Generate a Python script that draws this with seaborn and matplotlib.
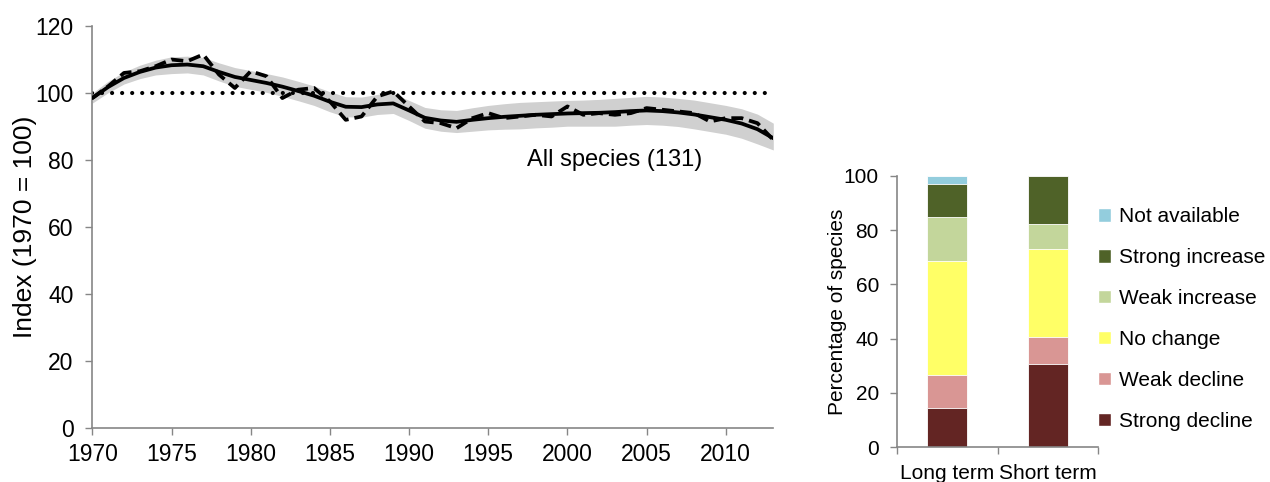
import numpy as np
import pandas as pd
import matplotlib
matplotlib.use('Agg')
import matplotlib.pyplot as plt
from matplotlib.patches import Patch
import seaborn as sns

# --- Data ---
years = list(range(1970, 2014))
annual_index = [98.5, 102, 106, 106.5, 108, 110, 109.5, 111.5, 105.5, 101.5,
                106.5, 105, 98.5, 101, 101.5, 97.5, 92, 93, 99, 100.5,
                96, 91.5, 91, 89.5, 92.5, 94, 92.5, 93, 93.5, 93,
                96, 93.5, 94, 93.5, 94, 95.5, 95, 94.5, 94, 91.5,
                92.5, 92.5, 91, 86]
smoothed = [98.5, 101.8, 104.5, 106.3, 107.6, 108.3, 108.5, 108, 106.3, 104.8,
            103.9, 103, 101.9, 100.6, 99.2, 97.4, 95.9, 95.8, 96.6, 96.9,
            94.8, 92.6, 91.8, 91.4, 92, 92.5, 92.9, 93.2, 93.5, 93.7,
            93.9, 94, 94.1, 94.3, 94.6, 94.8, 94.6, 94.2, 93.6, 92.8,
            92, 90.9, 89.2, 86.5]
upper = [100, 103.5, 106.3, 108.3, 109.8, 110.8, 111, 110.6, 109, 107.6,
         106.7, 105.8, 104.8, 103.5, 102.1, 100.4, 98.9, 98.8, 99.6, 99.9,
         97.8, 95.7, 95, 94.8, 95.6, 96.3, 96.8, 97.2, 97.4, 97.6,
         97.8, 97.9, 98.1, 98.4, 98.7, 99, 98.8, 98.4, 97.9, 97.1,
         96.3, 95.3, 93.7, 91]
lower = [97, 100.1, 102.7, 104.3, 105.4, 105.8, 106, 105.4, 103.6, 102,
         101.1, 100.2, 99, 97.7, 96.3, 94.4, 92.9, 92.8, 93.6, 93.9,
         91.8, 89.5, 88.6, 88.2, 88.6, 89, 89.2, 89.3, 89.6, 89.8,
         90.1, 90.1, 90.1, 90.1, 90.4, 90.6, 90.4, 90, 89.3, 88.5,
         87.7, 86.5, 84.8, 83]
baseline = 100

periods = ['Long term', 'Short term']
trend_classes = ['Strong decline', 'Weak decline', 'No change',
                 'Weak increase', 'Strong increase', 'Not available']
long_term = [14.5, 12.2, 42.0, 16.0, 12.2, 3.1]
short_term = [30.5, 9.9, 32.8, 9.2, 17.6, 0.0]
class_colors = ['#632523', '#D99694', '#FFFF66', '#C3D69B', '#4F6228', '#93CDDD']

# --- Style ---
sns.set_theme(style='white')
plt.rcParams['font.family'] = ['Liberation Sans', 'DejaVu Sans']
plt.rcParams['text.color'] = 'black'
plt.rcParams['axes.labelcolor'] = 'black'
axis_grey = '#868686'

fig = plt.figure(figsize=(12.7, 4.82), dpi=100)
ax1 = fig.add_axes([0.0727, 0.112, 0.5362, 0.834])
ax2 = fig.add_axes([0.7063, 0.0726, 0.1583, 0.5624])

# --- Left panel: index over time ---
df = pd.DataFrame({'year': years, 'index': annual_index, 'smooth': smoothed,
                   'lower': lower, 'upper': upper})
ax1.fill_between(df['year'], df['lower'], df['upper'], color='#d0d0d0', lw=0, zorder=1)
ax1.axhline(baseline, color='black', lw=3.0, dashes=(0.01, 2.4),
            dash_capstyle='round', zorder=2)
sns.lineplot(data=df, x='year', y='smooth', ax=ax1, color='black', lw=2.7, zorder=3)
sns.lineplot(data=df, x='year', y='index', ax=ax1, color='black', lw=2.7,
             dashes=False, zorder=4).lines[-1].set_dashes((3.2, 1.6))
ax1.text(2003, 80, 'All species (131)', fontsize=17, ha='center', va='center')

ax1.set_xlim(1970, 2013)
ax1.set_ylim(0, 120)
ax1.set_xticks(range(1970, 2011, 5))
ax1.set_yticks(range(0, 121, 20))
ax1.set_xlabel('')
ax1.set_ylabel('Index (1970 = 100)', fontsize=19, labelpad=-1)
ax1.tick_params(axis='x', labelsize=16.5, length=5, width=1, color=axis_grey,
                labelcolor='black', pad=6, bottom=True, direction='out')
ax1.tick_params(axis='y', labelsize=16.5, length=5, width=1, color=axis_grey,
                labelcolor='black', pad=8.5, left=True, direction='out')
for side in ['top', 'right']:
    ax1.spines[side].set_visible(False)
for side in ['left', 'bottom']:
    ax1.spines[side].set_color(axis_grey)
    ax1.spines[side].set_linewidth(1.2)

# --- Right panel: stacked bars of trend classes ---
bars = pd.DataFrame({'class': trend_classes, 'Long term': long_term,
                     'Short term': short_term}).set_index('class')
tops = bars.cumsum()
for cls, col in reversed(list(zip(trend_classes, class_colors))):
    seg = pd.DataFrame({'period': periods, 'top': tops.loc[cls, periods].values})
    sns.barplot(data=seg, x='period', y='top', ax=ax2, color=col, width=0.4,
                saturation=1, edgecolor='white', linewidth=0.6)

ax2.set_xlim(-0.5, 1.5)
ax2.set_ylim(0, 100)
ax2.set_yticks(range(0, 101, 20))
ax2.set_xlabel('')
ax2.set_ylabel('Percentage of species', fontsize=15, labelpad=-2.5)
ax2.set_xticks([-0.5, 0.5, 1.5], minor=True)
ax2.tick_params(axis='x', which='major', length=0, labelsize=15, pad=12, labelcolor='black')
ax2.tick_params(axis='x', which='minor', length=5, width=1, color=axis_grey, bottom=True)
ax2.tick_params(axis='y', labelsize=15, length=5, width=1, color=axis_grey,
                labelcolor='black', left=True, pad=8)
for side in ['top', 'right']:
    ax2.spines[side].set_visible(False)
for side in ['left', 'bottom']:
    ax2.spines[side].set_color(axis_grey)
    ax2.spines[side].set_linewidth(1.2)

handles = [Patch(facecolor=c, label=l) for l, c in zip(trend_classes, class_colors)][::-1]
ax2.legend(handles=handles, loc='center left', bbox_to_anchor=(0.99, 0.472),
           frameon=False, fontsize=15, handlelength=0.6, handleheight=0.6,
           handletextpad=0.4, labelspacing=1.05, borderaxespad=0.0, borderpad=0.1)

fig.savefig('out.png', dpi=100)
